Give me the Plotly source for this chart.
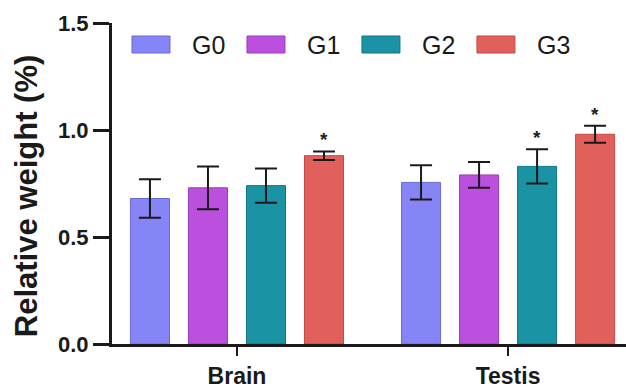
import plotly.graph_objects as go

categories = ["Brain", "Testis"]
groups = ["G0", "G1", "G2", "G3"]
means = {
    "G0": [0.68, 0.755],
    "G1": [0.73, 0.79],
    "G2": [0.74, 0.83],
    "G3": [0.88, 0.98],
}
errors = {
    "G0": [0.09, 0.08],
    "G1": [0.10, 0.06],
    "G2": [0.08, 0.08],
    "G3": [0.02, 0.04],
}
significant = {
    "G0": [False, False],
    "G1": [False, False],
    "G2": [False, True],
    "G3": [True, True],
}
colors = ["#8585F8", "#BC50DE", "#1A93A4", "#E2605B"]
outline = ["#6a6ad0", "#9a3cbc", "#137382", "#bf4a46"]
y_ticks = [0.0, 0.5, 1.0, 1.5]

step = 0.214
width = 0.144
xpos = list(range(len(categories)))

fig = go.Figure()
for i, g in enumerate(groups):
    off = (i - 1.5) * step
    fig.add_trace(go.Bar(
        x=xpos, y=means[g], name=g,
        width=width, offset=off - width / 2,
        marker=dict(color=colors[i], line=dict(color=outline[i], width=1)),
        error_y=dict(type="data", array=errors[g], visible=True,
                     color="#1a1a1a", thickness=2, width=11),
        showlegend=False, hoverinfo="skip",
    ))
    sx = [x + off for x, s in zip(xpos, significant[g]) if s]
    sy = [m + e for m, e, s in zip(means[g], errors[g], significant[g]) if s]
    for x_, y_ in zip(sx, sy):
        fig.add_annotation(x=x_, y=y_, text="<b>*</b>", showarrow=False,
                           yanchor="bottom", yshift=-1,
                           font=dict(size=19, color="#222", family="Liberation Sans"))

# manual legend with wide swatches
for i, g in enumerate(groups):
    x0 = 0.0389 + i * 0.2237
    fig.add_shape(type="rect", xref="paper", yref="paper",
                  x0=x0, x1=x0 + 0.0739, y0=0.9065, y1=0.9595,
                  fillcolor=colors[i], line=dict(color=outline[i], width=1))
    fig.add_annotation(xref="paper", yref="paper", x=x0 + 0.1129, y=0.933,
                       text=g, showarrow=False, xanchor="left", yanchor="middle",
                       font=dict(size=25, color="#1a1a1a", family="Liberation Sans"))

fig.add_annotation(xref="paper", yref="paper", x=-0.167, y=0.461,
                   text="<b>Relative weight (%)</b>", textangle=-90, showarrow=False,
                   xanchor="center", yanchor="middle",
                   font=dict(size=31, color="#1a1a1a", family="Liberation Sans"))

fig.update_layout(
    width=626, height=388,
    margin=dict(l=112, r=0, t=23, b=44),
    paper_bgcolor="white", plot_bgcolor="white",
    font=dict(family="Liberation Sans", color="#1a1a1a"),
    xaxis=dict(range=[-0.461, 1.435], tickvals=xpos, ticktext=[f"<b>{c}</b>" for c in categories],
               showgrid=False, zeroline=False, showline=True, linecolor="#1a1a1a", linewidth=3,
               ticks="outside", ticklen=9, tickwidth=2, tickcolor="#1a1a1a", automargin=False,
               tickfont=dict(size=23, family="Liberation Sans", color="#1a1a1a")),
    yaxis=dict(range=[0, 1.5], tickvals=y_ticks, ticktext=[f"<b>{v:.1f}</b>" for v in y_ticks],
               showgrid=False, zeroline=False, showline=True, linecolor="#1a1a1a", linewidth=3,
               ticks="outside", ticklen=16, tickwidth=2.5, tickcolor="#1a1a1a", automargin=False,
               tickfont=dict(size=22, family="Liberation Sans", color="#1a1a1a")),
)

fig.write_html("out.html", config={"displayModeBar": False},
               post_script="document.body.style.margin='0px';document.body.style.overflow='hidden';")
